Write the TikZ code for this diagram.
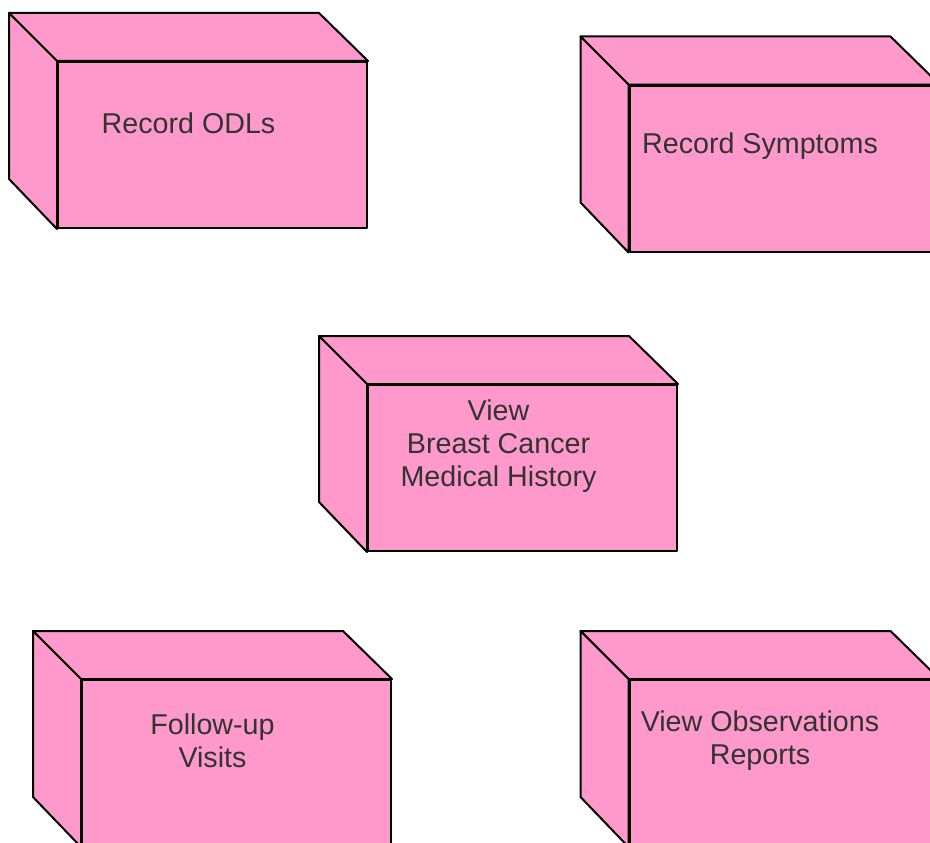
\documentclass[tikz,border=0pt]{standalone}
\usepackage{fontspec}
\setmainfont{Liberation Sans}
\definecolor{nodepink}{HTML}{FF99CC}
\begin{document}
\begin{tikzpicture}[x=0.75pt,y=-0.75pt,line join=round,
	front/.style={draw,fill=nodepink,line width=1.5pt,inner sep=0pt,minimum width=231.75pt,minimum height=124.5pt},
	face/.style={draw,fill=nodepink,line width=1.5pt},
	lbl/.style={align=center,text=black!80,font=\fontsize{21.5}{24.75}\selectfont}]
	\useasboundingbox (0,0) rectangle (930,842);
	% uml nodes: name / front centre / label
	\foreach \nm/\cx/\cy/\txt in {odl/212.5/145/{Record ODLs},
		sym/784/168.5/{Record Symptoms},
		hist/522.5/468/{View\\Breast Cancer\\Medical History},
		visit/236.5/763/{Follow-up\\Visits},
		obs/784/763/{View Observations\\Reports}}{
		\node[front] (\nm) at (\cx,\cy) {};
		\draw[face] (\nm.north west) -- ++(-48,-48) -- ++(310,0) -- (\nm.north east) -- cycle;
		\draw[face] (\nm.north west) -- ++(-48,-48) -- ++(0,166) -- (\nm.south west) -- cycle;
		\node[lbl] (\nm-t) at ([shift={(-24,-22)}]\nm.center) {\txt};
	}
\end{tikzpicture}
\end{document}
